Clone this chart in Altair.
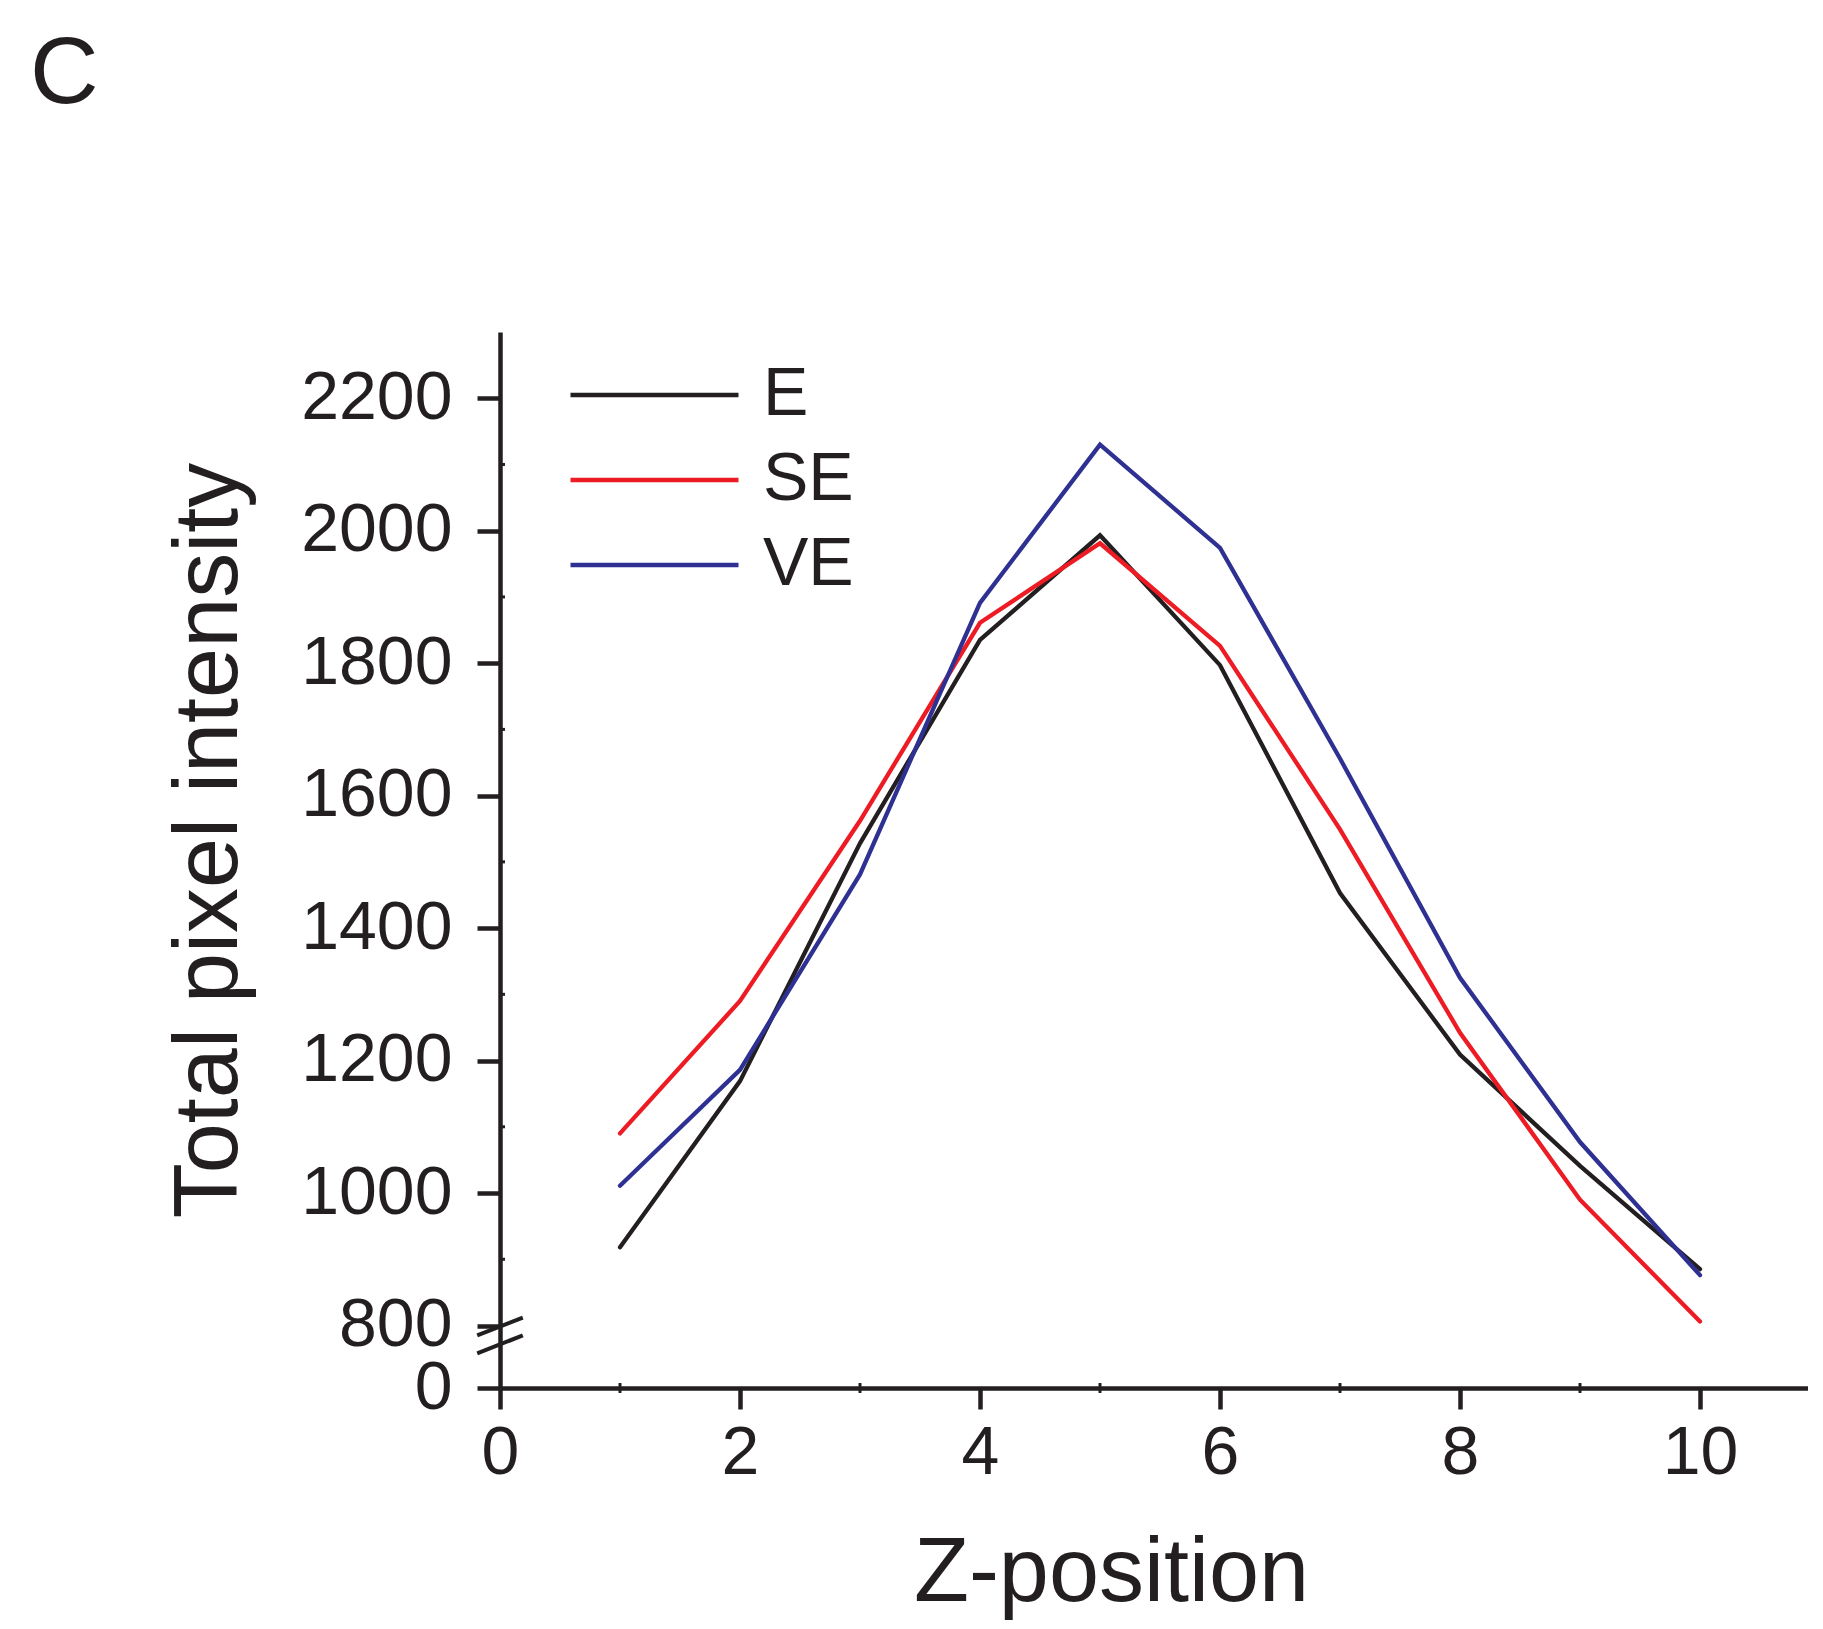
import altair as alt
import pandas as pd

# ---- data ----
z_positions = [1, 2, 3, 4, 5, 6, 7, 8, 9, 10]
series_names = ["E", "SE", "VE"]
e_values = [918, 1169, 1528, 1835, 1993, 1797, 1453, 1209, 1041, 885]
se_values = [1090, 1290, 1562, 1861, 1981, 1826, 1549, 1242, 990, 806]
ve_values = [1011, 1186, 1481, 1891, 2130, 1974, 1656, 1325, 1077, 876]
series_colors = ["#231f20", "#ed1c24", "#2e3192"]

x_ticks = [0, 2, 4, 6, 8, 10]
x_minor = [1, 3, 5, 7, 9]
y_ticks = [0, 800, 1000, 1200, 1400, 1600, 1800, 2000, 2200]
y_minor = [900, 1100, 1300, 1500, 1700, 1900, 2100]
panel_label = ["C"]

TXT = "#231f20"
FONT = "Liberation Sans"
W, H = 1308, 1056

rows = []
for name, vals in zip(series_names, [e_values, se_values, ve_values]):
    for z, v in zip(z_positions, vals):
        rows.append({"x": z, "y": v, "series": name})
df = pd.DataFrame(rows)

xscale = alt.Scale(domain=[0, 10.9], nice=False, zero=False)
yscale = alt.Scale(domain=[0, 800, 2300], range=[H, 993.5, 0], nice=False, zero=False)

axis_common = dict(labelFont=FONT, titleFont=FONT, labelColor=TXT, titleColor=TXT,
                   domainColor=TXT, tickColor=TXT, domainWidth=4.5, tickWidth=4.5,
                   titleFontWeight="normal", labelFlush=False, labelOverlap=False,
                   grid=False, format="d")

lines = alt.Chart(df).mark_line(strokeWidth=4.3, strokeCap="round").encode(
    x=alt.X("x:Q", scale=xscale, axis=alt.Axis(
        values=x_ticks, title="Z-position", titleX=611, titleY=212,
        titleBaseline="alphabetic", titleAlign="center",
        labelPadding=10, labelFontSize=68, titleFontSize=90,
        tickSize=21, **axis_common)),
    y=alt.Y("y:Q", scale=yscale, axis=alt.Axis(
        values=y_ticks, title="Total pixel intensity", titleX=-264, titleY=508,
        titleBaseline="alphabetic", titleAngle=270, titleAlign="center",
        labelPadding=25, labelFontSize=68, titleFontSize=90,
        tickSize=23, **axis_common)),
    color=alt.Color("series:N", scale=alt.Scale(domain=series_names, range=series_colors),
                    legend=alt.Legend(title=None, orient="none", legendX=68, legendY=28,
                                      symbolType="stroke", symbolSize=28224,
                                      symbolStrokeWidth=4.5, labelOffset=22,
                                      labelFontSize=68, rowPadding=15, clipHeight=70,
                                      labelFont=FONT, labelColor=TXT)),
)

ymin_df = pd.DataFrame({"y": y_minor})
yminor = alt.Chart(ymin_df).mark_rule(color=TXT, strokeWidth=3).encode(
    y=alt.Y("y:Q", scale=yscale), x=alt.value(0), x2=alt.value(5))

xmin_df = pd.DataFrame({"x": x_minor})
xminor = alt.Chart(xmin_df).mark_rule(color=TXT, strokeWidth=3).encode(
    x=alt.X("x:Q", scale=xscale), y=alt.value(H - 5), y2=alt.value(H + 5))

# axis-break slashes (data units)
brk = pd.DataFrame({"x": [-0.19, -0.19], "x2": [0.19, 0.19],
                    "y": [673, 444], "y2": [812, 673]})
breaks = alt.Chart(brk).mark_rule(color=TXT, strokeWidth=4).encode(
    x=alt.X("x:Q", scale=xscale), x2="x2:Q",
    y=alt.Y("y:Q", scale=yscale), y2="y2:Q")

lab = alt.Chart(pd.DataFrame({"label": panel_label})).mark_text(
    font=FONT, fontSize=95, color=TXT, align="left", baseline="alphabetic"
).encode(text="label:N", x=alt.value(-470), y=alt.value(-229))

chart = alt.layer(lines, yminor, xminor, breaks, lab).properties(
    width=W, height=H,
    autosize=alt.AutoSizeParams(type="none"),
    padding={"left": 492, "top": 324, "right": 0, "bottom": 232},
    background="white",
).configure_view(stroke=None)

chart.save("out.html", embed_options={"renderer": "svg", "actions": False})
